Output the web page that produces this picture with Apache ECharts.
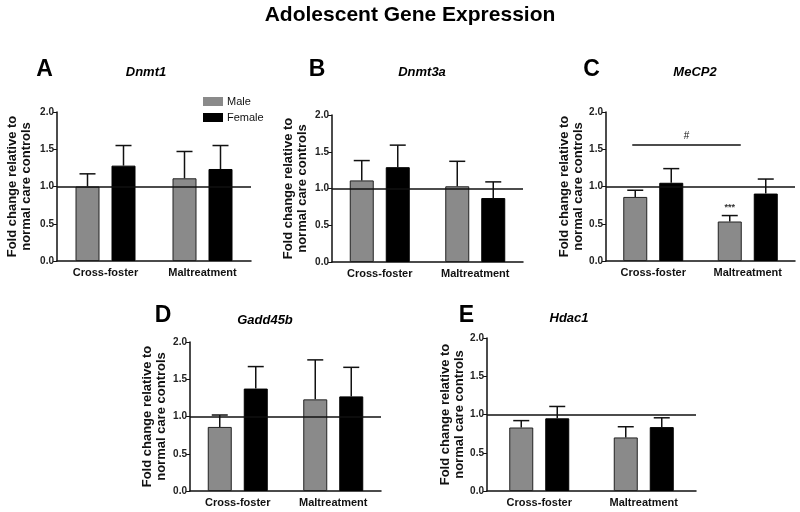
<!DOCTYPE html>
<html>
<head>
<meta charset="utf-8">
<script src="https://cdn.jsdelivr.net/npm/echarts@6/dist/echarts.min.js"></script>
<style>html,body{margin:0;padding:0;background:#fff;}#chart{width:800px;height:512px;}</style>
</head>
<body>
<div id="chart"></div>
<script>
// ---- data ----
const categories = ['Cross-foster', 'Maltreatment'];
const genes = ['Dnmt1', 'Dnmt3a', 'MeCP2', 'Gadd45b', 'Hdac1'];
const panelLetters = ['A', 'B', 'C', 'D', 'E'];
const seriesNames = ['Male', 'Female'];
const yTicks = [0.0, 0.5, 1.0, 1.5, 2.0];
const referenceValue = 1.0;

const dnmt1Male = [1.00, 1.11];
const dnmt1MaleErr = [0.17, 0.36];
const dnmt1Female = [1.28, 1.235];
const dnmt1FemaleErr = [0.27, 0.315];

const dnmt3aMale = [1.11, 1.03];
const dnmt3aMaleErr = [0.27, 0.34];
const dnmt3aFemale = [1.29, 0.87];
const dnmt3aFemaleErr = [0.30, 0.22];

const mecp2Male = [0.86, 0.53];
const mecp2MaleErr = [0.09, 0.08];
const mecp2Female = [1.05, 0.905];
const mecp2FemaleErr = [0.19, 0.195];

const gadd45bMale = [0.86, 1.23];
const gadd45bMaleErr = [0.16, 0.53];
const gadd45bFemale = [1.375, 1.27];
const gadd45bFemaleErr = [0.295, 0.39];

const hdac1Male = [0.83, 0.70];
const hdac1MaleErr = [0.09, 0.14];
const hdac1Female = [0.95, 0.835];
const hdac1FemaleErr = [0.155, 0.122];

// significance annotations in MeCP2 panel
const mecp2HashLineValue = 1.556;
const mecp2HashText = '#';
const mecp2StarsText = '***';
const mecp2StarsCategory = 1;

const maleMeans = [dnmt1Male, dnmt3aMale, mecp2Male, gadd45bMale, hdac1Male];
const maleErrs = [dnmt1MaleErr, dnmt3aMaleErr, mecp2MaleErr, gadd45bMaleErr, hdac1MaleErr];
const femaleMeans = [dnmt1Female, dnmt3aFemale, mecp2Female, gadd45bFemale, hdac1Female];
const femaleErrs = [dnmt1FemaleErr, dnmt3aFemaleErr, mecp2FemaleErr, gadd45bFemaleErr, hdac1FemaleErr];

// ---- layout ----
const FONT = '"Liberation Sans", Arial, sans-serif';
const grids = [
  {left: 57, top: 112, width: 194, height: 149},
  {left: 332, top: 115, width: 191, height: 147},
  {left: 606, top: 112, width: 189, height: 149},
  {left: 190, top: 342, width: 191, height: 149},
  {left: 487, top: 338, width: 209, height: 153}
];
const nameGaps = [24, 23, 21, 22, 20];
const letterPos = [[44.5, 70], [317, 70], [591.5, 70], [163, 316], [466.5, 316]];
const genePos = [[146, 72], [422, 72], [695, 72], [265, 320], [569, 318]];

const BAR_W = 24;
const OFFSET = 18;
const CAP = 16;

function errSeries(idx, means, errs, off) {
  return {
    type: 'custom', xAxisIndex: idx, yAxisIndex: idx, silent: true, z: 5,
    encode: {x: 0, y: [1, 2]},
    data: means.map((m, i) => [i, m, m + errs[i]]),
    renderItem: function (params, api) {
      const p0 = api.coord([api.value(0), api.value(1)]);
      const p1 = api.coord([api.value(0), api.value(2)]);
      const x = p0[0] + off;
      const st = {stroke: '#111', lineWidth: 1.5};
      return {
        type: 'group',
        children: [
          {type: 'line', shape: {x1: x, y1: p0[1], x2: x, y2: p1[1]}, style: st},
          {type: 'line', shape: {x1: x - CAP / 2, y1: p1[1], x2: x + CAP / 2, y2: p1[1]}, style: st}
        ]
      };
    }
  };
}

const option = {
  animation: false,
  backgroundColor: '#fff',
  legend: {
    data: seriesNames, orient: 'vertical', left: 203, top: 96, padding: 0,
    itemWidth: 20, itemHeight: 9, itemGap: 5, icon: 'rect',
    itemStyle: {borderWidth: 0},
    textStyle: {fontFamily: FONT, fontSize: 11, color: '#111', padding: [0, 0, 0, -1]},
    selectedMode: false
  },
  grid: grids.map(g => Object.assign({containLabel: false}, g)),
  xAxis: grids.map((g, i) => ({
    type: 'category', gridIndex: i, data: categories,
    axisLine: {lineStyle: {color: '#111', width: 1.5}},
    axisTick: {show: false},
    axisLabel: {fontFamily: FONT, fontSize: 11, fontWeight: 'bold', color: '#111', margin: 6}
  })),
  yAxis: grids.map((g, i) => ({
    type: 'value', gridIndex: i, min: 0, max: 2, interval: 0.5,
    name: 'Fold change relative to\nnormal care controls',
    nameLocation: 'middle', nameRotate: 90, nameGap: nameGaps[i],
    nameTextStyle: {fontFamily: FONT, fontSize: 13, fontWeight: 'bold', color: '#111', lineHeight: 14},
    axisLine: {show: true, lineStyle: {color: '#111', width: 1.5}},
    axisTick: {show: true, length: 4, lineStyle: {color: '#111', width: 1}},
    splitLine: {show: false},
    axisLabel: {fontFamily: FONT, fontSize: 10, fontWeight: 'bold', color: '#222', margin: 3,
      formatter: v => yTicks.includes(v) ? v.toFixed(1) : ''}
  })),
  graphic: [
    {type: 'text', x: 410, y: 15, style: {text: 'Adolescent Gene Expression', font: 'bold 21px ' + FONT, fill: '#000', textAlign: 'center', textVerticalAlign: 'middle'}}
  ].concat(panelLetters.map((l, i) => ({
    type: 'text', x: letterPos[i][0], y: letterPos[i][1],
    style: {text: l, font: 'bold 23px ' + FONT, fill: '#000', textAlign: 'center', textVerticalAlign: 'middle'}
  }))).concat(genes.map((gname, i) => ({
    type: 'text', x: genePos[i][0], y: genePos[i][1],
    style: {text: gname, font: 'italic bold 13px ' + FONT, fill: '#000', textAlign: 'center', textVerticalAlign: 'middle'}
  }))),
  series: []
};

genes.forEach((g, i) => {
  option.series.push({
    type: 'bar', name: seriesNames[0], xAxisIndex: i, yAxisIndex: i,
    data: maleMeans[i], barWidth: BAR_W, barGap: '50%',
    itemStyle: {color: '#8a8a8a', borderColor: '#222', borderWidth: 1},
    markLine: {
      silent: true, symbol: ['none', 'none'], label: {show: false}, z: 4,
      lineStyle: {color: '#111', width: 1.5, type: 'solid'},
      data: [{yAxis: referenceValue}]
    }
  });
  option.series.push({
    type: 'bar', name: seriesNames[1], xAxisIndex: i, yAxisIndex: i,
    data: femaleMeans[i], barWidth: BAR_W, barGap: '50%',
    itemStyle: {color: '#000', borderColor: '#000', borderWidth: 1}
  });
  option.series.push(errSeries(i, maleMeans[i], maleErrs[i], -OFFSET));
  option.series.push(errSeries(i, femaleMeans[i], femaleErrs[i], OFFSET));
});

// significance annotations (MeCP2 panel)
option.series.push({
  type: 'custom', xAxisIndex: 2, yAxisIndex: 2, silent: true, z: 6,
  encode: {x: 0, y: 1},
  data: [[0, mecp2HashLineValue]],
  renderItem: function (params, api) {
    const a = api.coord([0, api.value(1)]);
    const b = api.coord([1, api.value(1)]);
    const top = mecp2Male[mecp2StarsCategory] + mecp2MaleErr[mecp2StarsCategory];
    const s = api.coord([mecp2StarsCategory, top]);
    return {
      type: 'group',
      children: [
        {type: 'line', shape: {x1: a[0] - 21, y1: a[1], x2: b[0] - 7, y2: b[1]}, style: {stroke: '#111', lineWidth: 1.5}},
        {type: 'text', x: (a[0] - 21 + b[0] - 7) / 2, y: a[1] - 9,
          style: {text: mecp2HashText, font: '10px ' + FONT, fill: '#111', textAlign: 'center', textVerticalAlign: 'middle'}},
        {type: 'text', x: s[0] - OFFSET, y: s[1] - 8,
          style: {text: mecp2StarsText, font: 'bold 9px ' + FONT, fill: '#333', textAlign: 'center', textVerticalAlign: 'middle'}}
      ]
    };
  }
});

const chart = echarts.init(document.getElementById('chart'), null, {renderer: 'canvas'});
chart.setOption(option);
</script>
</body>
</html>
